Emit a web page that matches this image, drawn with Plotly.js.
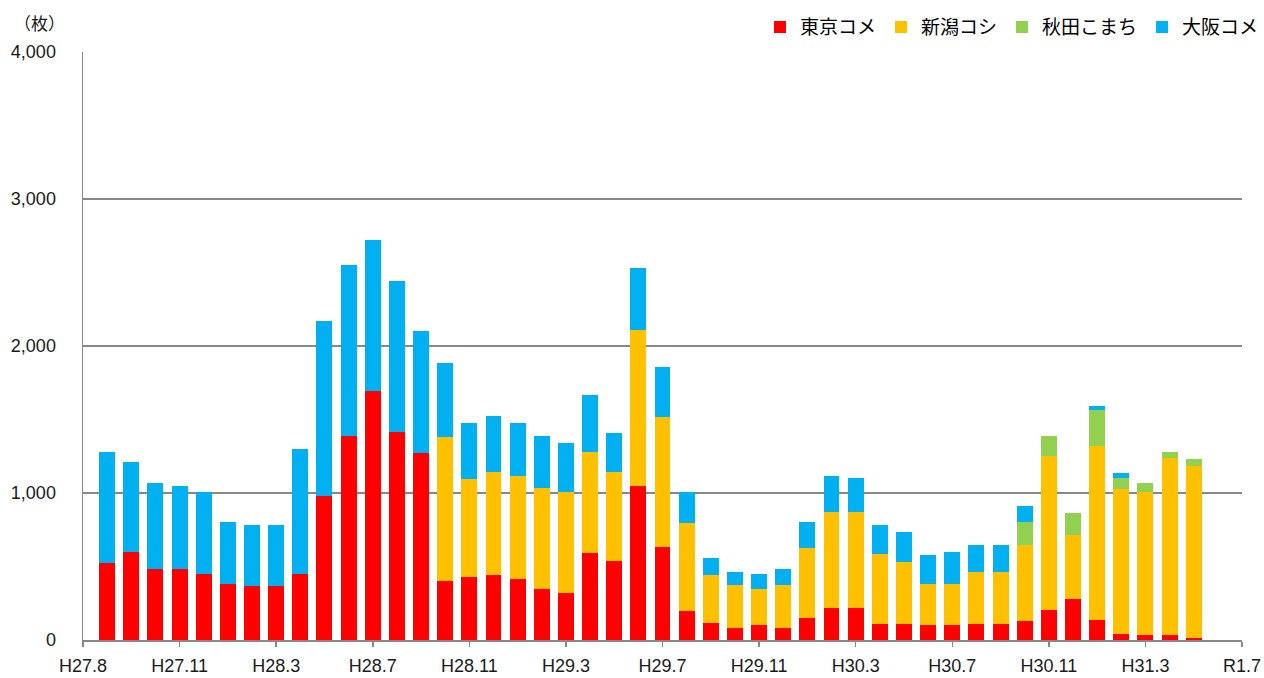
<!DOCTYPE html>
<html>
<head>
<meta charset="utf-8">
<script src="https://cdn.plot.ly/plotly-3.0.1.min.js"></script>
<style>html,body{margin:0;padding:0;background:#fff;}#chart{width:1264px;height:678px;}</style>
</head>
<body>
<div id="chart"></div>
<script>
// Months (one bar each), H27.8 to R1.5
const months = ["H27.8","H27.9","H27.10","H27.11","H27.12","H28.1","H28.2","H28.3","H28.4","H28.5","H28.6","H28.7",
  "H28.8","H28.9","H28.10","H28.11","H28.12","H29.1","H29.2","H29.3","H29.4","H29.5","H29.6","H29.7",
  "H29.8","H29.9","H29.10","H29.11","H29.12","H30.1","H30.2","H30.3","H30.4","H30.5","H30.6","H30.7",
  "H30.8","H30.9","H30.10","H30.11","H30.12","H31.1","H31.2","H31.3","H31.4","R1.5"];

const tokyo = [522,602,480,480,452,384,370,370,452,983,1391,1692,1418,1269,400,427,441,414,346,318,591,536,1051,631,
  196,114,85,99,85,153,221,221,112,112,99,99,112,112,126,207,276,139,44,31,31,17];
const niigata = [0,0,0,0,0,0,0,0,0,0,0,0,0,0,978,665,705,705,691,692,691,610,1061,883,
  597,325,286,245,286,476,653,653,476,422,285,285,354,354,517,1048,435,1184,980,979,1210,1170];
const akita = [0,0,0,0,0,0,0,0,0,0,0,0,0,0,0,0,0,0,0,0,0,0,0,0,
  0,0,0,0,0,0,0,0,0,0,0,0,0,0,163,136,150,245,81,55,41,41];
const osaka = [760,612,585,571,558,422,409,409,844,1184,1157,1032,1021,830,503,381,381,354,354,327,382,259,422,340,
  217,122,95,108,109,177,245,231,191,204,191,218,177,177,109,0,0,27,28,0,0,0];

const seriesNames = ["東京コメ","新潟コシ","秋田こまち","大阪コメ"];
const seriesColors = ["#FF0000","#FFC000","#92D050","#00B0F0"];

const tickPositions = [-1,3,7,11,15,19,23,27,31,35,39,43,47];
const tickLabels = ["H27.8","H27.11","H28.3","H28.7","H28.11","H29.3","H29.7","H29.11","H30.3","H30.7","H30.11","H31.3","R1.7"];

const xs = months.map((m, i) => i);
const data = [tokyo, niigata, akita, osaka].map((vals, k) => ({
  type: 'bar', x: xs, y: vals, name: seriesNames[k], customdata: months, textposition: 'none',
  marker: {color: seriesColors[k], line: {width: 0}},
  hovertemplate: '%{customdata}: %{y}<extra>' + seriesNames[k] + '</extra>'
}));

const font = "'Noto Sans CJK JP', 'Noto Sans', sans-serif";
const numFont = "'Liberation Sans', 'Noto Sans', sans-serif";
const layout = {
  width: 1264, height: 678,
  margin: {l: 83, r: 22, t: 52, b: 38},
  barmode: 'stack', bargap: 0.34,
  paper_bgcolor: '#fff', plot_bgcolor: '#fff',
  font: {family: font, size: 16, color: '#000'},
  showlegend: true,
  legend: {orientation: 'h', xref: 'container', yref: 'container', x: 1.0, xanchor: 'right', y: 0.988, yanchor: 'top',
    font: {family: font, size: 19, color: '#000'}, traceorder: 'normal',
    itemwidth: 30, tracegroupgap: 0, entrywidth: 0},
  xaxis: {
    range: [-1, 47], tickmode: 'array', tickvals: tickPositions, ticktext: tickLabels,
    showgrid: false, zeroline: false, showline: true, linecolor: '#888', linewidth: 1.5,
    ticks: 'outside', ticklen: 5, tickcolor: '#888', tickwidth: 1.5, ticklabelstandoff: 4,
    tickfont: {family: numFont, size: 18, color: '#1a1a1a'},
    fixedrange: true
  },
  yaxis: {
    range: [0, 4000], tickvals: [0,1000,2000,3000,4000], tickformat: ',d',
    showgrid: true, gridcolor: '#888', gridwidth: 1.4,
    zeroline: false, showline: true, linecolor: '#888', linewidth: 1.5, ticks: '',
    ticklabelstandoff: 22,
    tickfont: {family: numFont, size: 18, color: '#1a1a1a'},
    fixedrange: true
  },
  annotations: [{
    text: '（枚）', xref: 'paper', yref: 'paper', x: 0, y: 1, xanchor: 'right', yanchor: 'bottom',
    xshift: -16, yshift: 15, showarrow: false, font: {family: font, size: 17, color: '#1a1a1a'}
  }]
};
Plotly.newPlot('chart', data, layout, {displayModeBar: false, staticPlot: true});
</script>
</body>
</html>
